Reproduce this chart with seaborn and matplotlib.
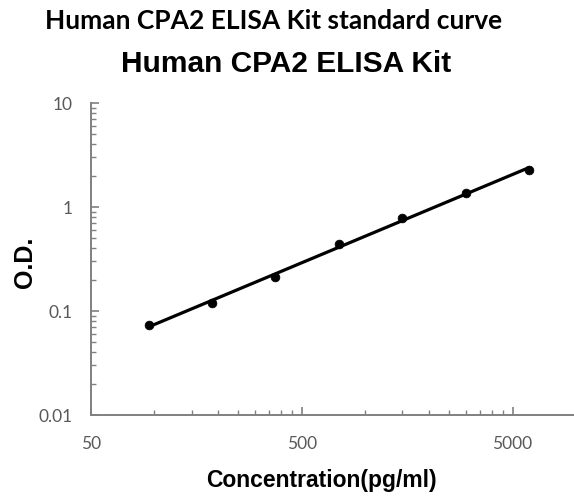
import numpy as np
import pandas as pd
import matplotlib
matplotlib.use("Agg")
import matplotlib.pyplot as plt
import matplotlib.ticker as mticker
import seaborn as sns

concentration = [93.75, 187.5, 375, 750, 1500, 3000, 6000]
od = [0.073, 0.119, 0.214, 0.437, 0.789, 1.35, 2.27]
x_major = [50, 500, 5000]
y_major = [0.01, 0.1, 1, 10]
y_labels = ["0.01", "0.1", "1", "10"]

df = pd.DataFrame({"conc": concentration, "od": od})

# power fit in log-log space
slope, intercept = np.polyfit(np.log10(df["conc"]), np.log10(df["od"]), 1)
fit = pd.DataFrame({"conc": np.geomspace(df["conc"].min(), df["conc"].max(), 50)})
fit["od"] = 10 ** (intercept + slope * np.log10(fit["conc"]))

sns.set_style("white")
plt.rcParams["font.family"] = ["Liberation Sans", "DejaVu Sans"]

fig = plt.figure(figsize=(5.74, 4.99), dpi=100)
ax = fig.add_axes([91 / 574, 84 / 499, 485 / 574, 312 / 499])

sns.lineplot(data=fit, x="conc", y="od", color="black", linewidth=2.3, ax=ax)
sns.scatterplot(data=df, x="conc", y="od", color="black", s=40, edgecolor="black", ax=ax, zorder=3)

ax.set_xscale("log")
ax.set_yscale("log")
ax.set_xlim(50, 10000)
ax.set_ylim(0.01, 10)

ax.xaxis.set_major_locator(mticker.FixedLocator(x_major))
ax.xaxis.set_major_formatter(mticker.FixedFormatter([str(v) for v in x_major]))
minor_x = [m * k for m in x_major for k in range(2, 10)]
ax.xaxis.set_minor_locator(mticker.FixedLocator(minor_x))
ax.xaxis.set_minor_formatter(mticker.NullFormatter())
ax.yaxis.set_major_locator(mticker.FixedLocator(y_major))
ax.yaxis.set_major_formatter(mticker.FixedFormatter(y_labels))
ax.yaxis.set_minor_locator(mticker.LogLocator(base=10, subs=np.arange(2, 10)))
ax.yaxis.set_minor_formatter(mticker.NullFormatter())

for side in ["top", "right"]:
    ax.spines[side].set_visible(False)
for side in ["left", "bottom"]:
    ax.spines[side].set_color("#808080")
    ax.spines[side].set_linewidth(1.4)

ax.tick_params(which="both", bottom=True, left=True, top=False, right=False)
ax.tick_params(which="major", direction="in", length=6, width=1.2, color="#808080",
               labelsize=12.5, labelcolor="#595959", pad=13)
ax.tick_params(which="minor", direction="in", length=3.5, width=1.0, color="#808080")
ax.tick_params(axis="x", which="major", pad=15)
for lab in ax.get_xticklabels() + ax.get_yticklabels():
    lab.set_family(["Lato", "DejaVu Sans"])

ax.set_xlabel("")
ax.set_ylabel("")

fig.text(274 / 574, 1 - 21 / 499, "Human CPA2 ELISA Kit standard curve", ha="center", va="center",
         fontsize=19, fontweight="bold", color="black", family=["Lato", "DejaVu Sans"])
fig.text(286 / 574, 1 - 64 / 499, "Human CPA2 ELISA Kit", ha="center", va="center",
         fontsize=21.5, fontweight="bold", color="black")
fig.text(25 / 574, 1 - 262 / 499, "O.D.", ha="center", va="center", rotation=90,
         fontsize=18, fontweight="bold", color="black")
fig.text(321 / 574, 1 - 481 / 499, "Concentration(pg/ml)", ha="center", va="center",
         fontsize=16.5, fontweight="bold", color="black")

fig.savefig("out.png", dpi=100)
